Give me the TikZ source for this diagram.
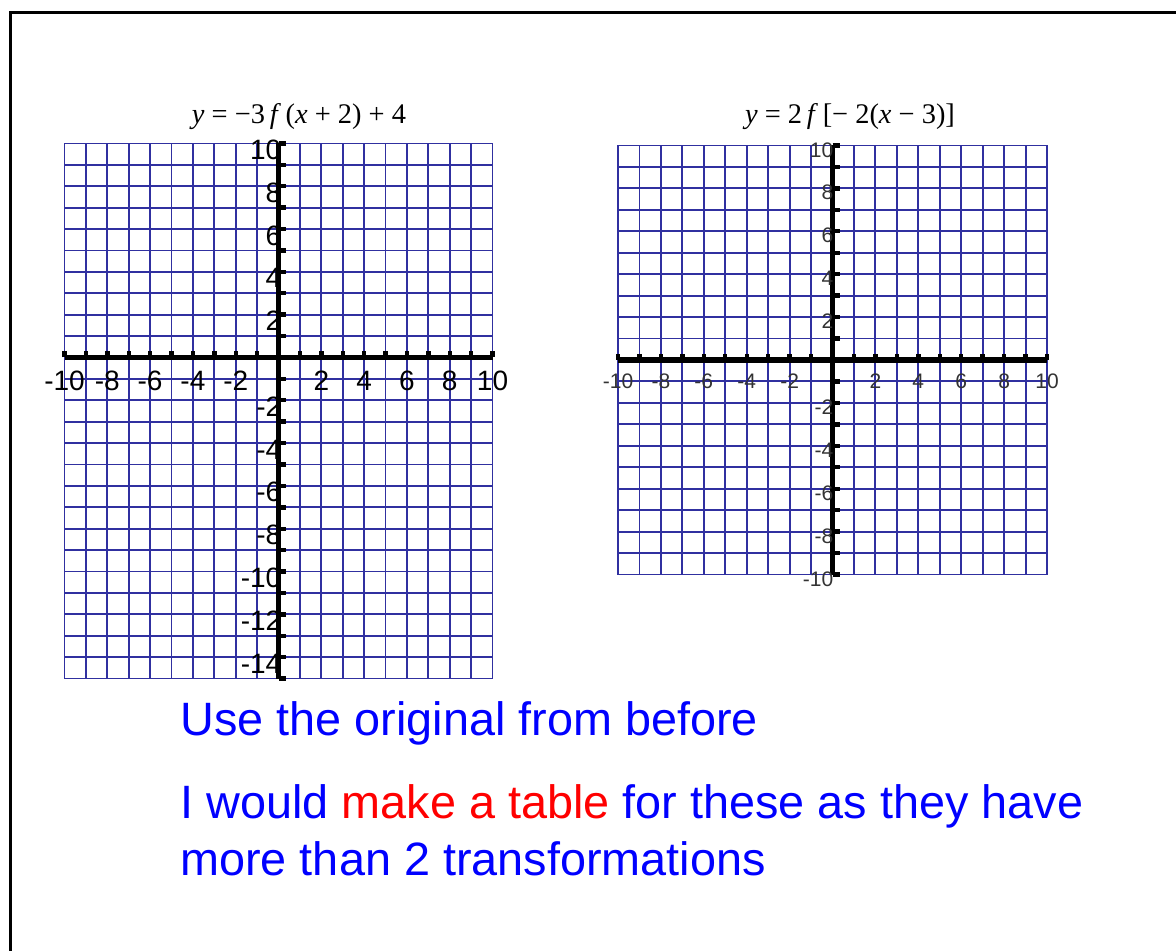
\documentclass[tikz,border=0pt]{standalone}
\usepackage{fontspec}
\setmainfont{Liberation Sans}
\newfontfamily\eqfont{Liberation Serif}
\usetikzlibrary{positioning}
\definecolor{grd}{HTML}{3030A0}
\definecolor{txtB}{HTML}{0000FF}
\definecolor{txtR}{HTML}{FF0000}

\begin{document}
\begin{tikzpicture}[x=0.5pt,y=-0.5pt,
  gridln/.style={draw=grd,line width=0.95pt},
  axisln/.style={black,line width=2.6pt},
  tickln/.style={black,line width=2.2pt},
  lblL/.style={inner sep=0pt,font=\fontsize{14}{14}\selectfont},
  lblR/.style={inner sep=0pt,font=\fontsize{10.5}{10.5}\selectfont,text=black!80},
  eqn/.style={inner sep=0pt,anchor=base,font=\eqfont\fontsize{14.2}{14.2}\selectfont},
  msg/.style={inner sep=0pt,anchor=base west,text=txtB,font=\fontsize{23.4}{23.4}\selectfont},
  ]
\useasboundingbox (0,0) rectangle (1176,951);

% ---- page frame (runs off the right and bottom edge) ----
\begin{scope}
\clip (0,0) rectangle (1176,951);
\draw[line width=1.5pt] (10,13) rectangle (1200,990);
\end{scope}

% ================= LEFT: y = -3f(x+2)+4 =================
\node[eqn] (eqL) at (299,124) {\textit{y} = −3\,\textit{f}\,(\textit{x} + 2) + 4};
\begin{scope}[shift={(278.5,357.5)}]
\begin{scope}[x=10.7pt,y=10.7pt]
\foreach \x in {-10,...,10} \draw[gridln] (\x,-15) -- (\x,10);
\foreach \y in {-15,...,10} \draw[gridln] (-10,\y) -- (10,\y);
\draw[axisln] (-10,0) -- (10,0);
\draw[axisln] (0,-15) -- (0,10);
\foreach \x in {-10,...,-1,1,2,...,10} \draw[tickln] (\x,0) -- (\x,0.3);
\foreach \y in {-15,...,-1,1,2,...,10} \draw[tickln] (0,\y) -- (0.35,\y);
\foreach \x in {-10,-8,...,-2,2,4,...,10} \node[lblL] (lx\x) at (\x,-1.1) {\x};
\foreach \y in {-14,-12,...,-2,2,4,...,10} \node[lblL,anchor=east] (ly\y) at (0.15,\y-0.3) {\y};
\end{scope}
\end{scope}

% ================= RIGHT: y = 2f[-2(x-3)] =================
\node[eqn] (eqR) at (850,124) {\textit{y} = 2\,\textit{f}\,[− 2(\textit{x} − 3)]};
\begin{scope}[shift={(832.5,360)}]
\begin{scope}[x=10.725pt,y=10.725pt]
\foreach \x in {-10,...,10} \draw[gridln] (\x,-10) -- (\x,10);
\foreach \y in {-10,...,10} \draw[gridln] (-10,\y) -- (10,\y);
\draw[axisln] (-10,0) -- (10,0);
\draw[axisln] (0,-10) -- (0,10);
\foreach \x in {-10,...,-1,1,2,...,10} \draw[tickln] (\x,0) -- (\x,0.3);
\foreach \y in {-10,...,-1,1,2,...,10} \draw[tickln] (0,\y) -- (0.35,\y);
\foreach \x in {-10,-8,...,-2,2,4,...,10} \node[lblR] (rx\x) at (\x,-1) {\x};
\foreach \y in {-10,-8,...,-2,2,4,...,10} \node[lblR,anchor=east] (ry\y) at (0.05,\y-0.2) {\y};
\end{scope}
\end{scope}

% ================= notes below =================
\node[msg] (m1) at (180,735) {Use the original from before};
\node[msg] (m2) at (180,818) {I would \textcolor{txtR}{make a table} for these as they have};
\node[msg] (m3) at (180,875) {more than 2 transformations};

\end{tikzpicture}
\end{document}
